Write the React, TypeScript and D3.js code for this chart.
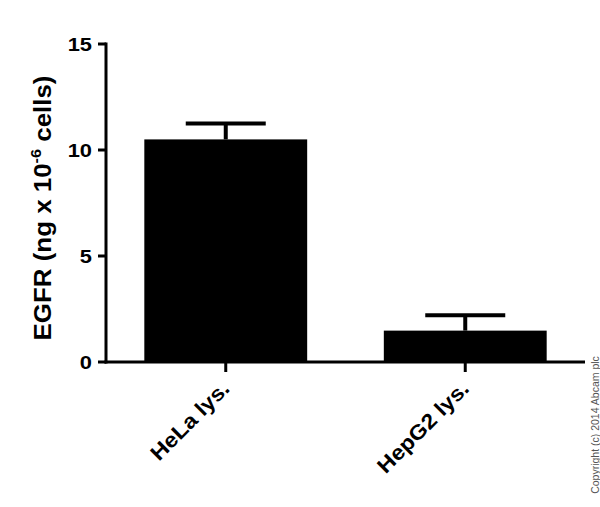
import React from "react";
import * as d3 from "d3";

const categories = ["HeLa lys.", "HepG2 lys."];
const means = [10.5, 1.48];
const errors = [0.75, 0.72];
const yTicks = [0, 5, 10, 15];

const W = 600;
const H = 507;
const FONT = "'Liberation Sans', Arial, Helvetica, sans-serif";

export default function App() {
  const x = d3.scaleBand<string>().domain(categories).range([106, 585]).paddingInner(0.32).paddingOuter(0.16);
  const y = d3.scaleLinear().domain([0, 15]).range([362, 44]);
  const bw = x.bandwidth();
  const capW = 80;

  return (
    <svg
      width={W}
      height={H}
      style={{ position: "absolute", left: 0, top: 0, background: "#fff" }}
      fontFamily={FONT}
    >
      {/* bars */}
      {categories.map((c, i) => {
        const x0 = x(c)!;
        const cx = x0 + bw / 2;
        return (
          <g key={c}>
            <rect x={x0} y={y(means[i])} width={bw} height={y(0) - y(means[i])} fill="#000" />
            <line x1={cx} x2={cx} y1={y(means[i])} y2={y(means[i] + errors[i])} stroke="#000" strokeWidth={4} />
            <line x1={cx - capW / 2} x2={cx + capW / 2} y1={y(means[i] + errors[i])} y2={y(means[i] + errors[i])} stroke="#000" strokeWidth={4} />
          </g>
        );
      })}

      {/* y axis */}
      <line x1={106} x2={106} y1={y(15) - 1.5} y2={y(0) + 1.5} stroke="#000" strokeWidth={3} />
      {yTicks.map((t) => (
        <g key={t}>
          <line x1={98} x2={106} y1={y(t)} y2={y(t)} stroke="#000" strokeWidth={3} />
          <text
            transform={`translate(92,${y(t)}) scale(1.15,1)`}
            dy="0.36em"
            textAnchor="end"
            fontSize={19}
            fontWeight="bold"
            fill="#000"
          >
            {t}
          </text>
        </g>
      ))}

      {/* x axis */}
      <line x1={104.5} x2={585} y1={y(0)} y2={y(0)} stroke="#000" strokeWidth={3} />
      {categories.map((c) => {
        const cx = x(c)! + bw / 2;
        return (
          <g key={c}>
            <line x1={cx} x2={cx} y1={y(0)} y2={y(0) + 10} stroke="#000" strokeWidth={3} />
            <text
              transform={`translate(${cx + 5},${y(0) + 28}) rotate(-45) scale(1.1,1)`}
              textAnchor="end"
              fontSize={21}
              fontWeight="bold"
              fill="#000"
            >
              {c}
            </text>
          </g>
        );
      })}

      {/* y label */}
      <text
        transform={`translate(51,${(y(0) + y(15)) / 2 + 5}) rotate(-90) scale(1.08,1)`}
        textAnchor="middle"
        fontSize={24}
        fontWeight="bold"
        fill="#000"
      >
        EGFR (ng x 10
        <tspan dy={-10} fontSize={15}>-6</tspan>
        <tspan dy={10}> cells)</tspan>
      </text>

      {/* copyright */}
      <text
        transform={`translate(599,425) rotate(-90)`}
        textAnchor="middle"
        fontSize={10.5}
        fill="#555"
      >
        Copyright (c) 2014 Abcam plc
      </text>
    </svg>
  );
}
